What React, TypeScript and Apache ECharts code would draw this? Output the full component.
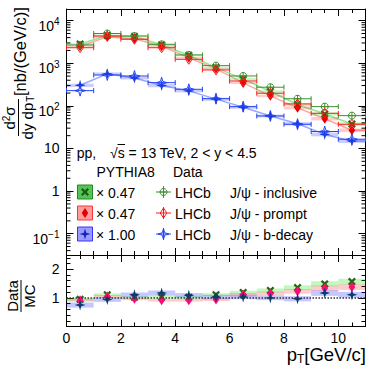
import React, { useEffect, useRef } from 'react';
import * as echarts from 'echarts';

const FONT = "'Liberation Sans', Arial, Helvetica, sans-serif";

// ---- data ----
const ptCenters = [0.5, 1.5, 2.5, 3.5, 4.5, 5.5, 6.5, 7.5, 8.5, 9.5, 10.5];
const ptHalfBin = 0.5;

const inclusiveData = [2690, 5000, 4370, 2790, 1570, 880, 504, 274, 147, 96, 59];
const promptData = [2320, 4370, 3660, 2320, 1240, 697, 384, 198, 111, 67, 37];
const bdecayData = [228, 531, 503, 351, 245, 148, 96, 58, 37, 25, 16.5];

const inclusivePythia = [2830, 4500, 4280, 2710, 1540, 793, 424, 217, 108, 64.4, 37.6];
const promptPythia = [2520, 4160, 3770, 2520, 1350, 741, 346, 172, 90, 50, 26.8];
const bdecayPythia = [304, 565, 453, 300, 225, 144, 93, 58, 38, 21.4, 14.9];

const inclusiveRatio = [0.95, 1.11, 1.02, 1.03, 1.02, 1.11, 1.19, 1.26, 1.36, 1.49, 1.57];
const promptRatio = [0.92, 1.05, 0.97, 0.92, 0.92, 0.94, 1.11, 1.15, 1.23, 1.34, 1.38];
const bdecayRatio = [0.75, 0.94, 1.11, 1.17, 1.09, 1.03, 1.03, 1.0, 0.97, 1.17, 1.11];

const inclusiveBand = [0.05, 0.05, 0.05, 0.05, 0.05, 0.05, 0.06, 0.07, 0.08, 0.09, 0.1];
const promptBand = [0.05, 0.05, 0.05, 0.05, 0.05, 0.05, 0.06, 0.07, 0.08, 0.09, 0.1];
const bdecayBand = [0.09, 0.08, 0.08, 0.09, 0.08, 0.08, 0.08, 0.08, 0.09, 0.1, 0.1];

const pythiaScales = ['× 0.47', '× 0.47', '× 1.00'];
const channelLabels = ['J/ψ - inclusive', 'J/ψ - prompt', 'J/ψ - b-decay'];

const Y_MIN = 0.0316;
const Y_MAX = 18800;
const X_MIN = 0;
const X_MAX = 11;

// ---- marker shapes ----
const X_PTS = [[0, 2], [2, 0], [5, 3], [8, 0], [10, 2], [7, 5], [10, 8], [8, 10], [5, 7], [2, 10], [0, 8], [3, 5]];
const STAR_PTS = [[5, 0], [6.1, 3.9], [10, 5], [6.1, 6.1], [5, 10], [3.9, 6.1], [0, 5], [3.9, 3.9]];
const DIAMOND_PTS = [[5, 0], [8.3, 5], [5, 10], [1.7, 5]];

function pts(p: number[][], cx: number, cy: number, size: number) {
  return p.map(([a, b]) => [cx + ((a - 5) * size) / 10, cy + ((b - 5) * size) / 10]);
}

type Kind = 'xFilled' | 'diamondFilled' | 'starFilled' | 'circleOpen' | 'diamondOpen' | 'starOpen';

function markerEls(kind: Kind, cx: number, cy: number, color: string): any[] {
  switch (kind) {
    case 'xFilled':
      return [{ type: 'polygon', shape: { points: pts(X_PTS, cx, cy, 8) }, style: { fill: color } }];
    case 'diamondFilled':
      return [{ type: 'polygon', shape: { points: pts(DIAMOND_PTS, cx, cy, 10) }, style: { fill: color } }];
    case 'starFilled':
      return [{ type: 'polygon', shape: { points: pts(STAR_PTS, cx, cy, 11) }, style: { fill: color } }];
    case 'circleOpen':
      return [
        { type: 'circle', shape: { cx, cy, r: 3.5 }, style: { fill: 'none', stroke: color, lineWidth: 1 } },
        { type: 'line', shape: { x1: cx - 3.5, y1: cy, x2: cx + 3.5, y2: cy }, style: { stroke: color, lineWidth: 1 } },
        { type: 'line', shape: { x1: cx, y1: cy - 3.5, x2: cx, y2: cy + 3.5 }, style: { stroke: color, lineWidth: 1 } },
      ];
    case 'diamondOpen':
      return [{ type: 'polygon', shape: { points: pts(DIAMOND_PTS, cx, cy, 10) }, style: { fill: 'none', stroke: color, lineWidth: 1 } }];
    case 'starOpen':
      return [{ type: 'polygon', shape: { points: pts(STAR_PTS, cx, cy, 11) }, style: { fill: 'none', stroke: color, lineWidth: 1 } }];
  }
  return [];
}

const C = {
  gData: '#3f8f30',
  gMC: '#2d6410',
  gLine: 'rgba(110,225,110,0.75)',
  gBand: 'rgba(0,230,0,0.25)',
  gBoxFill: '#55c455',
  gBoxStroke: '#228a22',
  rData: '#ff1a1a',
  rMC: '#e80000',
  rMCratio: '#ff0a7a',
  rLine: 'rgba(255,130,130,0.7)',
  rBand: 'rgba(255,0,0,0.2)',
  rBoxFill: '#ff9c9c',
  rBoxStroke: '#ff3535',
  bData: '#2545f0',
  bMC: '#1535e0',
  bMCratio: '#0b3a6e',
  bLine: 'rgba(80,110,255,0.6)',
  bBand: 'rgba(0,0,255,0.22)',
  bBoxFill: '#9c9cff',
  bBoxStroke: '#3535ff',
};

function dataSeries(values: number[], color: string, kind: Kind) {
  return {
    type: 'custom',
    xAxisIndex: 0,
    yAxisIndex: 0,
    z: 5,
    silent: true,
    data: ptCenters.map((x, i) => [x, values[i]]),
    renderItem: (_p: any, api: any) => {
      const x = api.value(0);
      const y = api.value(1);
      const c = api.coord([x, y]);
      const l = api.coord([x - ptHalfBin, y]);
      const r = api.coord([x + ptHalfBin, y]);
      const st = { stroke: color, lineWidth: 1 };
      return {
        type: 'group',
        children: [
          { type: 'line', shape: { x1: l[0], y1: c[1], x2: r[0], y2: c[1] }, style: st },
          { type: 'line', shape: { x1: l[0], y1: c[1] - 2.5, x2: l[0], y2: c[1] + 2.5 }, style: st },
          { type: 'line', shape: { x1: r[0], y1: c[1] - 2.5, x2: r[0], y2: c[1] + 2.5 }, style: st },
          ...markerEls(kind, c[0], c[1], color),
        ],
      };
    },
  };
}

function pythiaSeries(values: number[], band: number[], boxColor: string, markColor: string, kind: Kind) {
  return {
    type: 'custom',
    xAxisIndex: 0,
    yAxisIndex: 0,
    z: 4,
    silent: true,
    data: ptCenters.map((x, i) => [x, values[i], band[i]]),
    renderItem: (_p: any, api: any) => {
      const x = api.value(0);
      const y = api.value(1);
      const e = api.value(2);
      const c = api.coord([x, y]);
      const tl = api.coord([x - ptHalfBin, y * (1 + e)]);
      const br = api.coord([x + ptHalfBin, y * (1 - e)]);
      return {
        type: 'group',
        children: [
          { type: 'rect', shape: { x: tl[0], y: tl[1], width: br[0] - tl[0], height: br[1] - tl[1] }, style: { fill: boxColor } },
          ...markerEls(kind, c[0], c[1], markColor),
        ],
      };
    },
  };
}

function pythiaLine(values: number[], color: string) {
  const pts2 = ptCenters.map((x, i) => [x, values[i]]);
  pts2.push([X_MAX, values[values.length - 1]]);
  return {
    type: 'line',
    xAxisIndex: 0,
    yAxisIndex: 0,
    z: 3,
    silent: true,
    showSymbol: false,
    symbol: 'none',
    data: pts2,
    lineStyle: { color, width: 1.5 },
  };
}

function ratioSeries(values: number[], band: number[], bandColor: string, markColor: string, kind: Kind, z: number) {
  return {
    type: 'custom',
    xAxisIndex: 2,
    yAxisIndex: 2,
    z,
    silent: true,
    data: ptCenters.map((x, i) => [x, values[i], band[i]]),
    renderItem: (_p: any, api: any) => {
      const x = api.value(0);
      const y = api.value(1);
      const e = api.value(2);
      const c = api.coord([x, y]);
      const tl = api.coord([x - ptHalfBin, y + e]);
      const br = api.coord([x + ptHalfBin, y - e]);
      return {
        type: 'group',
        children: [
          { type: 'rect', shape: { x: tl[0], y: tl[1], width: br[0] - tl[0], height: br[1] - tl[1] }, style: { fill: bandColor }, z2: 0 },
          ...markerEls(kind, c[0], c[1], markColor).map((m) => ({ ...m, z2: 10 })),
        ],
      };
    },
  };
}

// minor ticks of the log axis (2..9 x 10^k)
const logMinorValues: number[] = [];
for (let k = -2; k <= 4; k++) {
  for (let m = 2; m <= 9; m++) {
    const v = m * Math.pow(10, k);
    if (v > Y_MIN && v < Y_MAX) logMinorValues.push(v);
  }
}

function logLabel(v: number) {
  const lg = Math.log10(v);
  const e = Math.round(lg);
  if (Math.abs(lg - e) > 1e-6) return '';
  if (e === 0) return '{c|1}';
  if (e === 1) return '{c|10}';
  return `{b|10}{s|${e < 0 ? '−' + -e : e}}`;
}

function buildOption(): any {
  const black = '#000';
  const tickCommon = { show: true, inside: true, length: 7, lineStyle: { color: black, width: 1 } };
  const minorCommon = { show: true, length: 4, splitNumber: 4, lineStyle: { color: black, width: 1 } };
  const lineCommon = { show: true, onZero: false, lineStyle: { color: black, width: 1 } };
  const xBase = {
    type: 'value',
    min: X_MIN,
    max: X_MAX,
    interval: 2,
    splitLine: { show: false },
    axisLine: lineCommon,
    axisTick: tickCommon,
    minorTick: minorCommon,
  };
  const yRatioBase = {
    type: 'value',
    min: 0,
    max: 2.5,
    interval: 1,
    splitLine: { show: false },
    axisLine: lineCommon,
    axisTick: tickCommon,
    minorTick: { ...minorCommon, splitNumber: 5 },
  };
  const yLogBase = {
    type: 'log',
    logBase: 10,
    min: Y_MIN,
    max: Y_MAX,
    splitLine: { show: false },
    axisLine: lineCommon,
    axisTick: tickCommon,
    minorTick: { show: false },
  };

  const legendRows = [192, 213, 234];
  const boxFills = [C.gBoxFill, C.rBoxFill, C.bBoxFill];
  const boxStrokes = [C.gBoxStroke, C.rBoxStroke, C.bBoxStroke];
  const mcKinds: Kind[] = ['xFilled', 'diamondFilled', 'starFilled'];
  const mcColors = ['#1a5a1a', '#e00000', '#1525c0'];
  const dataKinds: Kind[] = ['circleOpen', 'diamondOpen', 'starOpen'];
  const dataColors = [C.gData, C.rData, C.bData];

  const txt = (text: string, x: number, y: number, extra: any = {}) => ({
    type: 'text',
    x,
    y,
    silent: true,
    style: { text, fill: black, font: `14px ${FONT}`, verticalAlign: 'middle', align: 'left', ...extra },
  });

  const legendEls: any[] = [];
  legendRows.forEach((yc, i) => {
    legendEls.push({ type: 'rect', silent: true, shape: { x: 77.5, y: yc - 7, width: 15, height: 14 }, style: { fill: boxFills[i], stroke: boxStrokes[i], lineWidth: 1 } });
    markerEls(mcKinds[i], 85, yc, mcColors[i]).forEach((m) => legendEls.push({ ...m, silent: true }));
    legendEls.push(txt(pythiaScales[i], 96, yc + 1));
    legendEls.push({ type: 'line', silent: true, shape: { x1: 156, y1: yc, x2: 171, y2: yc }, style: { stroke: dataColors[i], lineWidth: 1 } });
    legendEls.push({ type: 'line', silent: true, shape: { x1: 163.5, y1: yc - 6, x2: 163.5, y2: yc + 6 }, style: { stroke: dataColors[i], lineWidth: 1 } });
    markerEls(dataKinds[i], 163.5, yc, dataColors[i]).forEach((m) => legendEls.push({ ...m, silent: true }));
    legendEls.push(txt('LHCb', 175, yc + 1));
    legendEls.push(txt(channelLabels[i], 230, yc + 1));
  });

  const graphic: any[] = [
    // y title, top panel
    {
      type: 'group',
      x: 18.5,
      y: 136,
      rotation: Math.PI / 2,
      silent: true,
      children: [
        {
          type: 'text',
          x: 18,
          y: -1,
          style: {
            text: '{a|d}{s|2}{a|σ}',
            rich: {
              a: { fontSize: 15, fontFamily: FONT, fill: black, lineHeight: 16 },
              s: { fontSize: 10, fontFamily: FONT, fill: black, lineHeight: 16, padding: [0, 0, 6, 0] },
            },
            align: 'center',
            verticalAlign: 'bottom',
          },
        },
        { type: 'line', shape: { x1: 0, y1: 0, x2: 37, y2: 0 }, style: { stroke: black, lineWidth: 1 } },
        {
          type: 'text',
          x: 18.5,
          y: 1,
          style: {
            text: '{a|dy dp}{b|T}',
            rich: {
              a: { fontSize: 15, fontFamily: FONT, fill: black, lineHeight: 16 },
              b: { fontSize: 10, fontFamily: FONT, fill: black, lineHeight: 16, padding: [6, 0, 0, 1] },
            },
            align: 'center',
            verticalAlign: 'top',
          },
        },
        {
          type: 'text',
          x: 40,
          y: 1.5,
          style: { text: '[nb/(GeV/c)]', font: `16.5px ${FONT}`, fill: black, align: 'left', verticalAlign: 'middle' },
        },
      ],
    },
    // y title, ratio panel
    {
      type: 'group',
      x: 21,
      y: 312,
      rotation: Math.PI / 2,
      silent: true,
      children: [
        { type: 'text', x: 16, y: -1, style: { text: 'Data', font: `15px ${FONT}`, fill: black, align: 'center', verticalAlign: 'bottom' } },
        { type: 'line', shape: { x1: 0, y1: 0, x2: 32, y2: 0 }, style: { stroke: black, lineWidth: 1 } },
        { type: 'text', x: 16, y: 1, style: { text: 'MC', font: `15px ${FONT}`, fill: black, align: 'center', verticalAlign: 'top' } },
      ],
    },
    // x title
    {
      type: 'text',
      x: 366,
      y: 354.5,
      silent: true,
      style: {
        text: '{a|p}{b|T}{a|[GeV/c]}',
        rich: {
          a: { fontSize: 18.5, fontFamily: FONT, fill: black, lineHeight: 19 },
          b: { fontSize: 12, fontFamily: FONT, fill: black, lineHeight: 19, padding: [8, 0, 0, 0] },
        },
        align: 'right',
        verticalAlign: 'middle',
      },
    },
    // header texts
    txt('pp,', 76.7, 152.5),
    txt('√s = 13 TeV, 2 < y < 4.5', 110, 152.5),
    { type: 'line', silent: true, shape: { x1: 117.5, y1: 144.5, x2: 125, y2: 144.5 }, style: { stroke: black, lineWidth: 1 } },
    txt('PYTHIA8', 96.5, 172),
    txt('Data', 173, 172),
    ...legendEls,
  ];

  return {
    animation: false,
    backgroundColor: '#fff',
    textStyle: { fontFamily: FONT },
    grid: [
      { left: 66.5, right: 12.5, top: 9, height: 246 },
      { left: 66.5, right: 12.5, top: 255, height: 71.5 },
    ],
    xAxis: [
      { ...xBase, gridIndex: 0, position: 'bottom', axisLabel: { show: false } },
      { ...xBase, gridIndex: 0, position: 'top', axisLabel: { show: false } },
      {
        ...xBase,
        gridIndex: 1,
        position: 'bottom',
        axisLabel: {
          show: true,
          margin: 4,
          color: black,
          fontSize: 14,
          lineHeight: 14,
          fontFamily: FONT,
          formatter: (v: number) => (v % 2 === 0 ? String(v) : ''),
        },
      },
      { ...xBase, gridIndex: 1, position: 'top', axisLabel: { show: false } },
    ],
    yAxis: [
      {
        ...yLogBase,
        gridIndex: 0,
        position: 'left',
        axisLabel: {
          show: true,
          margin: 7,
          color: black,
          formatter: logLabel,
          rich: {
            c: { fontSize: 14, fontFamily: FONT, color: black },
            b: { fontSize: 14, fontFamily: FONT, color: black, lineHeight: 16, padding: [10, 0, 0, 0] },
            s: { fontSize: 10, fontFamily: FONT, color: black, lineHeight: 12, padding: [8, 0, 6, 0] },
          },
        },
      },
      { ...yLogBase, gridIndex: 0, position: 'right', axisLabel: { show: false } },
      {
        ...yRatioBase,
        gridIndex: 1,
        position: 'left',
        axisLabel: {
          show: true,
          margin: 7,
          color: black,
          fontSize: 14,
          fontFamily: FONT,
          formatter: (v: number) => (v === 1 || v === 2 ? String(v) : ''),
        },
      },
      { ...yRatioBase, gridIndex: 1, position: 'right', axisLabel: { show: false } },
    ],
    graphic,
    series: [
      {
        type: 'custom',
        xAxisIndex: 0,
        yAxisIndex: 0,
        silent: true,
        z: 6,
        data: logMinorValues.map((v) => [X_MIN, v]),
        renderItem: (_p: any, api: any) => {
          const v = api.value(1);
          const l = api.coord([X_MIN, v]);
          const r = api.coord([X_MAX, v]);
          const st = { stroke: black, lineWidth: 1 };
          return {
            type: 'group',
            children: [
              { type: 'line', shape: { x1: l[0], y1: l[1], x2: l[0] + 4, y2: l[1] }, style: st },
              { type: 'line', shape: { x1: r[0] - 4, y1: r[1], x2: r[0], y2: r[1] }, style: st },
            ],
          };
        },
      },
      pythiaLine(inclusivePythia, C.gLine),
      pythiaLine(promptPythia, C.rLine),
      pythiaLine(bdecayPythia, C.bLine),
      pythiaSeries(inclusivePythia, inclusiveBand, 'rgba(0,220,0,0.22)', C.gMC, 'xFilled'),
      pythiaSeries(promptPythia, promptBand, 'rgba(255,0,0,0.2)', C.rMC, 'diamondFilled'),
      pythiaSeries(bdecayPythia, bdecayBand, 'rgba(0,0,255,0.2)', C.bMC, 'starFilled'),
      dataSeries(inclusiveData, C.gData, 'circleOpen'),
      dataSeries(promptData, C.rData, 'diamondOpen'),
      dataSeries(bdecayData, C.bData, 'starOpen'),
      {
        ...ratioSeries(inclusiveRatio, inclusiveBand, C.gBand, C.gMC, 'xFilled', 3),
        markLine: {
          silent: true,
          symbol: 'none',
          z: 8,
          label: { show: false },
          lineStyle: { type: 'dotted', color: '#333', width: 1.5 },
          data: [{ yAxis: 1 }],
        },
      },
      ratioSeries(promptRatio, promptBand, C.rBand, C.rMCratio, 'diamondFilled', 4),
      ratioSeries(bdecayRatio, bdecayBand, C.bBand, C.bMCratio, 'starFilled', 5),
    ],
  };
}

export default function App() {
  const ref = useRef<HTMLDivElement>(null);
  useEffect(() => {
    if (!ref.current) return;
    const chart = echarts.init(ref.current, null, { renderer: 'svg' });
    chart.setOption(buildOption());
    return () => chart.dispose();
  }, []);
  return <div ref={ref} style={{ position: 'absolute', left: 0, top: 0, width: 378, height: 366 }} />;
}
